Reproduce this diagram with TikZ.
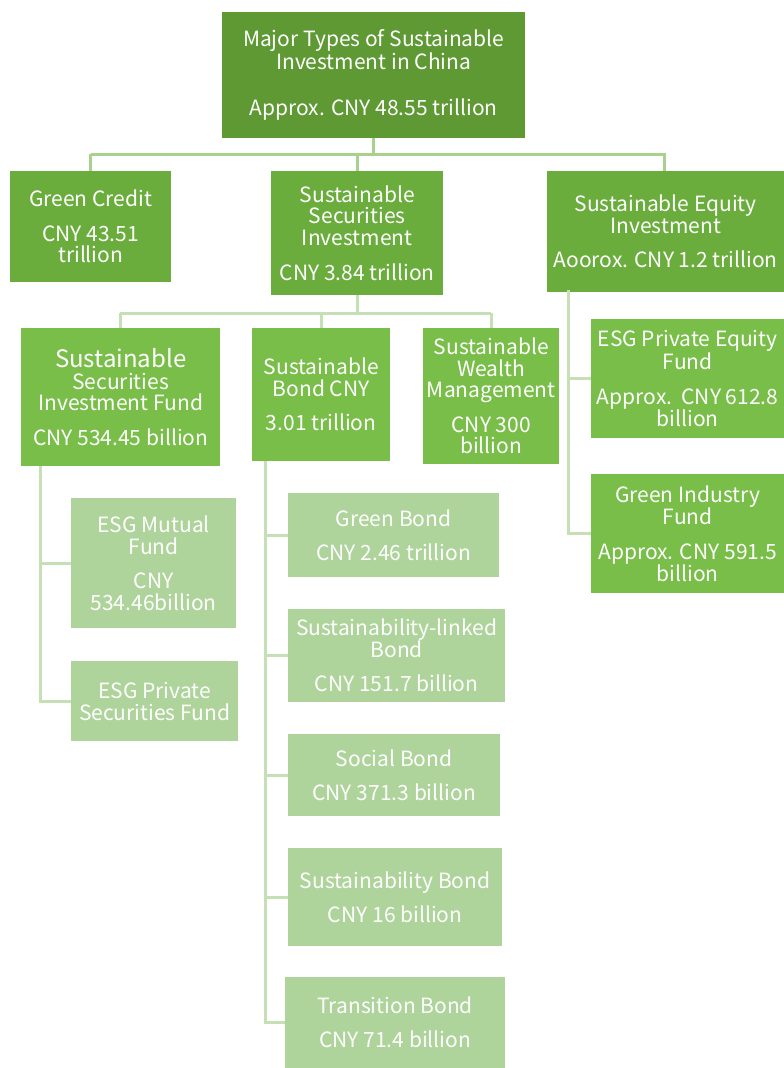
\documentclass[tikz,border=0pt]{standalone}
\usepackage{fontspec}
\setmainfont{Noto Sans CJK SC}
\definecolor{topgreen}{HTML}{5E9934}
\definecolor{midgreen}{HTML}{6AAD3C}
\definecolor{lowgreen}{HTML}{78BE48}
\definecolor{palegreen}{HTML}{AED49B}
\definecolor{linkgreen}{HTML}{A9D18E}
\definecolor{palelink}{HTML}{C5E0B4}
\tikzset{
    box/.style={anchor=north west, align=center, text=white, inner sep=2pt,
        font=\fontsize{21}{21.5}\selectfont},
    topbox/.style={box, fill=topgreen},
    midbox/.style={box, fill=midgreen},
    lowbox/.style={box, fill=lowgreen},
    palebox/.style={box, fill=palegreen, font=\fontsize{21}{22}\selectfont},
    link/.style={draw=linkgreen, line width=3pt},
    palelinkline/.style={draw=palelink, line width=3pt}
}

\begin{document}
\begin{tikzpicture}[x=1pt,y=-1pt]
        \useasboundingbox[fill=white] (0,0) rectangle (784,1068);
        % top level
        \node[topbox, minimum width=303, minimum height=126] (top) at (222,12)
            {Major Types of Sustainable\\Investment in China\\[25pt]Approx. CNY 48.55 trillion};
        % first level
        \node[midbox, minimum width=161, minimum height=111] (credit) at (10,171)
            {Green Credit\\[13pt]CNY 43.51\\trillion};
        \node[midbox, minimum width=172, minimum height=124] (securities) at (271,171)
            {Sustainable\\Securities\\Investment\\[14pt]CNY 3.84 trillion};
        \node[midbox, minimum width=237, minimum height=121] (equity) at (547,171)
            {Sustainable Equity\\Investment\\[13pt]Aoorox. CNY 1.2 trillion};
        % second level
        \node[lowbox, minimum width=199, minimum height=138] (fund) at (21,328)
            {{\fontsize{24}{22}\selectfont Sustainable}\\Securities\\Investment Fund\\[13pt]CNY 534.45 billion};
        \node[lowbox, minimum width=138, minimum height=133] (bond) at (252,328)
            {Sustainable\\Bond CNY\\[13pt]3.01 trillion};
        \node[lowbox, minimum width=136, minimum height=136] (wealth) at (423,328)
            {Sustainable\\Wealth\\Management\\[13pt]CNY 300\\billion};
        \node[lowbox, minimum width=193, minimum height=119] (privequity) at (591,319)
            {ESG Private Equity\\Fund\\[13pt]Approx.\ \ CNY 612.8\\billion};
        \node[lowbox, minimum width=193, minimum height=119] (industry) at (591,474)
            {Green Industry\\Fund\\[13pt]Approx. CNY 591.5\\billion};
        % third level
        \node[palebox, minimum width=165, minimum height=130] (mutual) at (71,498)
            {ESG Mutual\\Fund\\[12pt]CNY\\534.46billion};
        \node[palebox, minimum width=167, minimum height=80] (privsec) at (71,661)
            {ESG Private\\Securities Fund};
        \node[palebox, minimum width=211, minimum height=84] (green) at (288,493)
            {Green Bond\\[12pt]CNY 2.46 trillion};
        \node[palebox, minimum width=217, minimum height=93] (linked) at (288,609)
            {Sustainability-linked\\Bond\\[12pt]CNY 151.7 billion};
        \node[palebox, minimum width=212, minimum height=82] (social) at (288,734)
            {Social Bond\\[12pt]CNY 371.3 billion};
        \node[palebox, minimum width=214, minimum height=98] (sustbond) at (288,848)
            {Sustainability Bond\\[12pt]CNY 16 billion};
        \node[palebox, minimum width=220, minimum height=91] (transition) at (285,977)
            {Transition Bond\\[12pt]CNY 71.4 billion};
        % connectors
        \draw[link] (top.south) -- ++(0,16) coordinate (bar1);
        \draw[link] (bar1 -| credit.north) -- (bar1 -| equity.north);
        \foreach \n in {credit, securities} \draw[link] (bar1 -| \n.north) -- (\n.north);
        \draw[link] (bar1 -| 664,0) -- (equity.north -| 664,0);
        \draw[palelinkline] (securities.south) -- ++(0,18) coordinate (bar2);
        \draw[palelinkline] (bar2 -| 120,0) -- (bar2 -| 491,0);
        \draw[palelinkline] (bar2 -| 120,0) -- (fund.north -| 120,0);
        \draw[palelinkline] (bar2 -| 321,0) -- (bond.north -| 321,0);
        \draw[palelinkline] (bar2 -| wealth.north) -- (wealth.north);
        \draw[palelinkline] ([xshift=19]fund.south west) |- (mutual.west);
        \draw[palelinkline] ([xshift=19]fund.south west) |- (privsec.west);
        \foreach \n in {green, linked, social, sustbond, transition}
            \draw[palelinkline] ([xshift=13]bond.south west) |- (\n.west);
        \draw[palelinkline] ([xshift=21,yshift=2]equity.south west) |- (privequity.west);
        \draw[palelinkline] ([xshift=21,yshift=2]equity.south west) |- (industry.west);
    \end{tikzpicture}
\end{document}
